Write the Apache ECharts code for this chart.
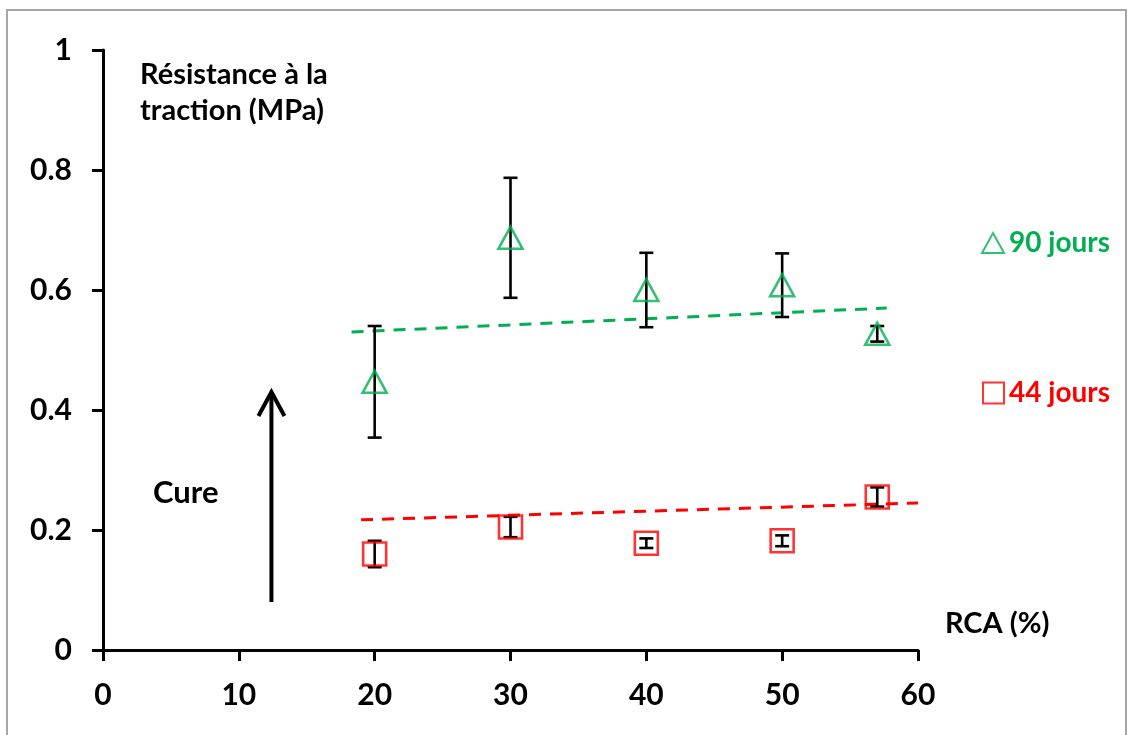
<!DOCTYPE html>
<html>
<head>
<meta charset="utf-8">
<script src="https://cdn.jsdelivr.net/npm/echarts@6/dist/echarts.min.js"></script>
<style>
html,body{margin:0;padding:0;background:#fff;}
#main{width:1132px;height:735px;}
</style>
</head>
<body>
<div id="main"></div>
<script>
// ---- data ----
const xVals = [20, 30, 40, 50, 57];
const j90 = [0.447, 0.687, 0.600, 0.608, 0.527];
const j90Err = [0.093, 0.100, 0.062, 0.053, 0.013];
const j44 = [0.160, 0.205, 0.178, 0.182, 0.255];
const j44Err = [0.022, 0.017, 0.008, 0.009, 0.016];
const trend90X = [18.3, 57.7];
const trend90Y = [0.530, 0.570];
const trend44X = [19.0, 60.0];
const trend44Y = [0.217, 0.245];
const xTicks = [0, 10, 20, 30, 40, 50, 60];
const yTicks = [0, 0.2, 0.4, 0.6, 0.8, 1];
const arrowX = 12.4, arrowY = [0.08, 0.43];

const GREEN = '#00B050', RED = '#FF0000';
const FONT = 'Lato';

const chart = echarts.init(document.getElementById('main'), null, {renderer: 'canvas'});

function errData(v, e) { return xVals.map((x, i) => [x, v[i] - e[i], v[i] + e[i]]); }
function errRender(params, api) {
  const x = api.value(0), lo = api.value(1), hi = api.value(2);
  const a = api.coord([x, lo]), b = api.coord([x, hi]);
  const hw = 7;
  const st = {stroke: '#000', lineWidth: 2.6};
  return {type: 'group', children: [
    {type: 'line', shape: {x1: a[0], y1: a[1], x2: b[0], y2: b[1]}, style: st},
    {type: 'line', shape: {x1: a[0] - hw, y1: a[1], x2: a[0] + hw, y2: a[1]}, style: st},
    {type: 'line', shape: {x1: b[0] - hw, y1: b[1], x2: b[0] + hw, y2: b[1]}, style: st}
  ]};
}

const option = {
  backgroundColor: '#fff',
  animation: false,
  grid: {left: 103, right: 214, top: 50, bottom: 85, containLabel: false},
  xAxis: {
    type: 'value', min: 0, max: 60, interval: 10,
    axisLine: {show: true, lineStyle: {color: '#000', width: 3}},
    axisTick: {show: true, inside: false, length: 11, lineStyle: {color: '#000', width: 3}},
    axisLabel: {margin: 30, color: '#000', fontSize: 30, fontWeight: 'bold', fontFamily: FONT,
      formatter: v => xTicks.includes(v) ? String(v) : ''},
    splitLine: {show: false}
  },
  yAxis: {
    type: 'value', min: 0, max: 1, interval: 0.2,
    axisLine: {show: true, lineStyle: {color: '#000', width: 3}},
    axisTick: {show: true, inside: false, length: 11, lineStyle: {color: '#000', width: 3}},
    axisLabel: {margin: 31, color: '#000', fontSize: 30, fontWeight: 'bold', fontFamily: FONT,
      formatter: v => { const t = yTicks.find(k => Math.abs(k - v) < 1e-9); return t === undefined ? '' : String(t); }},
    splitLine: {show: false}
  },
  legend: [
    {data: ['90 jours'], right: 17, top: 224, itemWidth: 22, itemHeight: 20, itemGap: 7,
      textStyle: {color: GREEN, fontSize: 28, fontWeight: 'bold', fontFamily: FONT}},
    {data: ['44 jours'], right: 17, top: 374, itemWidth: 21, itemHeight: 21, itemGap: 7,
      textStyle: {color: RED, fontSize: 28, fontWeight: 'bold', fontFamily: FONT}}
  ],
  series: [
    {name: 'trend90', type: 'line', data: trend90X.map((x, i) => [x, trend90Y[i]]), symbol: 'none',
      lineStyle: {color: GREEN, width: 3, type: [12, 9]}, z: 1, silent: true},
    {name: 'trend44', type: 'line', data: trend44X.map((x, i) => [x, trend44Y[i]]), symbol: 'none',
      lineStyle: {color: RED, width: 3, type: [12, 9]}, z: 1, silent: true},
    {name: 'err90', type: 'custom', renderItem: errRender, data: errData(j90, j90Err),
      encode: {x: 0, y: [1, 2]}, z: 2},
    {name: 'err44', type: 'custom', renderItem: errRender, data: errData(j44, j44Err),
      encode: {x: 0, y: [1, 2]}, z: 2},
    {name: '90 jours', type: 'scatter', data: xVals.map((x, i) => [x, j90[i]]), symbol: 'triangle',
      symbolSize: [24, 22], itemStyle: {color: 'rgba(0,0,0,0)', borderColor: GREEN, borderWidth: 2.6}, z: 3},
    {name: '44 jours', type: 'scatter', data: xVals.map((x, i) => [x, j44[i]]), symbol: 'rect',
      symbolSize: 23, itemStyle: {color: 'rgba(0,0,0,0)', borderColor: RED, borderWidth: 2.6}, z: 3}
  ]
};
chart.setOption(option);

// arrow in data coordinates
const p0 = chart.convertToPixel({gridIndex: 0}, [arrowX, arrowY[0]]);
const p1 = chart.convertToPixel({gridIndex: 0}, [arrowX, arrowY[1]]);
chart.setOption({graphic: [
  {type: 'rect', shape: {x: 7, y: 10, width: 1119, height: 740}, style: {fill: 'none', stroke: '#a6a6a6', lineWidth: 2}, z: -1, silent: true},
  {type: 'text', left: 140, top: 60, style: {text: 'Résistance à la', fill: '#000', font: 'bold 29px Lato'}},
  {type: 'text', left: 140, top: 96, style: {text: 'traction (MPa)', fill: '#000', font: 'bold 29px Lato'}},
  {type: 'text', left: 153, top: 477, style: {text: 'Cure', fill: '#000', font: 'bold 31px Lato'}},
  {type: 'text', left: 945, top: 609, style: {text: 'RCA (%)', fill: '#000', font: 'bold 29px Lato'}},
  {type: 'line', shape: {x1: p0[0], y1: p0[1], x2: p1[0], y2: p1[1] + 2}, style: {stroke: '#000', lineWidth: 4}},
  {type: 'polyline', shape: {points: [[p1[0] - 13, p1[1] + 24], [p1[0], p1[1]], [p1[0] + 13, p1[1] + 24]]},
    style: {stroke: '#000', lineWidth: 4, fill: 'none'}}
]}, {replaceMerge: ['graphic']});
</script>
</body>
</html>
